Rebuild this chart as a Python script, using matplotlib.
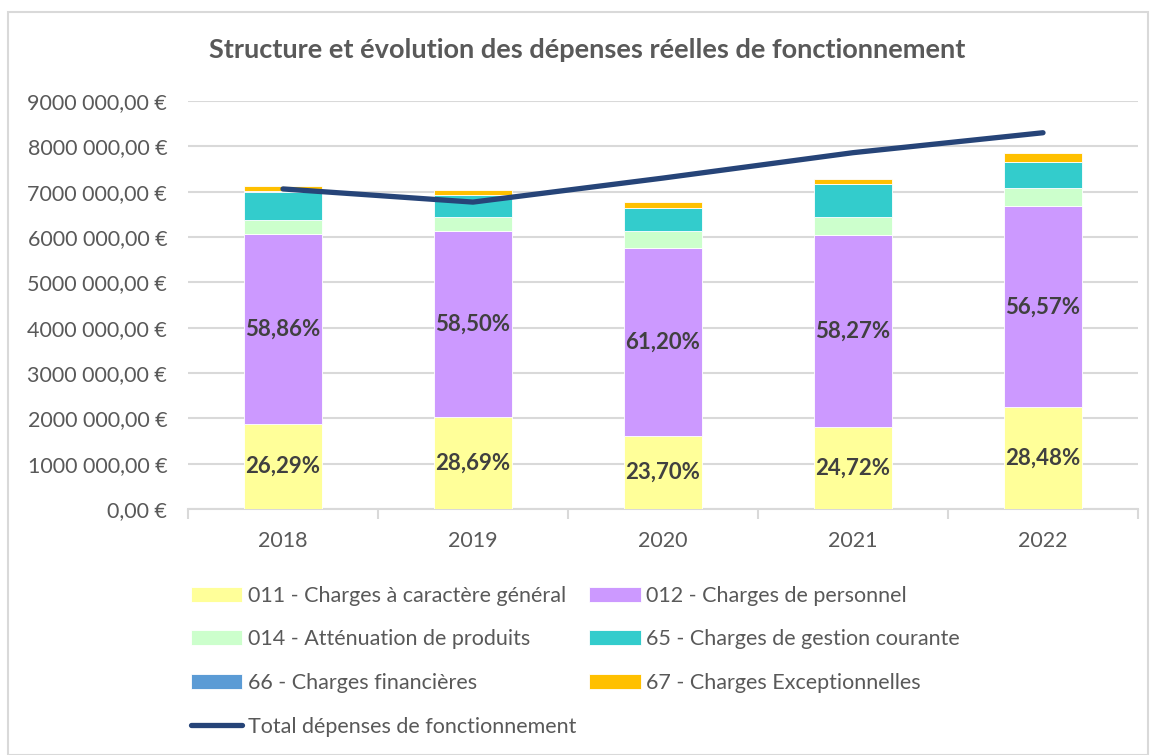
import numpy as np
import matplotlib.pyplot as plt
from matplotlib.patches import Rectangle
from matplotlib.ticker import FuncFormatter

plt.rcParams['font.family'] = ['Lato', 'DejaVu Sans']

# ---------------------------
# Data (euros)
# ---------------------------
years = ['2018', '2019', '2020', '2021', '2022']
ch_011 = [1872000, 2020000, 1604000, 1802000, 2239000]
ch_012 = [4191000, 4118000, 4143000, 4248000, 4446000]
ch_014 = [310000, 310000, 390000, 400000, 400000]
ch_65 = [630000, 480000, 500000, 710000, 570000]
ch_66 = [8000, 8000, 8000, 8000, 8000]
ch_67 = [109000, 104000, 125000, 122000, 197000]
total = [7060000, 6770000, 7300000, 7860000, 8300000]
pct_011 = ['26,29%', '28,69%', '23,70%', '24,72%', '28,48%']
pct_012 = ['58,86%', '58,50%', '61,20%', '58,27%', '56,57%']

series = [
    ('011 - Charges à caractère général', ch_011, '#FFFF99'),
    ('012 - Charges de personnel', ch_012, '#CC99FF'),
    ('014 - Atténuation de produits', ch_014, '#CCFFCC'),
    ('65 - Charges de gestion courante', ch_65, '#33CCCC'),
    ('66 - Charges financières', ch_66, '#5B9BD5'),
    ('67 - Charges Exceptionnelles', ch_67, '#FFC000'),
]

grey = '#595959'
grid_c = '#D9D9D9'

fig = plt.figure(figsize=(11.53, 7.55), dpi=100)
ax = fig.add_axes([188 / 1153, 1 - 509 / 755, 950 / 1153, 408 / 755])

x = np.arange(len(years))
bottom = np.zeros(len(years))
handles = {}
for name, vals, col in series:
    vals = np.array(vals, dtype=float)
    b = ax.bar(x, vals, 0.41, bottom=bottom, color=col, edgecolor='white',
               linewidth=0.6, label=name, zorder=2)
    handles[name] = b
    bottom += vals

line, = ax.plot(x, total, color='#264478', lw=3.8, solid_capstyle='round',
                label='Total dépenses de fonctionnement', zorder=3)

# percent labels
base = np.zeros(len(years))
for vals, labels in [(ch_011, pct_011), (ch_012, pct_012)]:
    vals = np.array(vals, dtype=float)
    for i in range(len(years)):
        ax.text(x[i], base[i] + vals[i] / 2, labels[i], ha='center', va='center',
                fontsize=16, fontweight='bold', color='#404040', zorder=4)
    base += vals

ax.set_ylim(0, 9000000)
ax.set_xlim(-0.5, len(years) - 0.5)
ax.set_yticks(np.arange(0, 9000001, 1000000))


def euro(v, pos):
    if v == 0:
        return '0,00 €'
    return f'{int(round(v / 1e6))}000 000,00 €'


ax.yaxis.set_major_formatter(FuncFormatter(euro))
ax.set_xticks(x)
ax.set_xticklabels(years)
ax.set_xticks(np.arange(-0.5, len(years), 1), minor=True)
ax.tick_params(axis='x', which='major', length=0, pad=16, labelsize=15.5, colors=grey)
ax.tick_params(axis='x', which='minor', length=7, width=1.5, color=grid_c)
ax.tick_params(axis='y', length=0, pad=15, labelsize=15.5, colors=grey)
ax.yaxis.grid(True, color=grid_c, lw=1.5, zorder=0)
ax.set_axisbelow(True)
for s in ['top', 'right', 'left']:
    ax.spines[s].set_visible(False)
ax.spines['bottom'].set_color(grid_c)
ax.spines['bottom'].set_linewidth(1.5)
ax.spines['bottom'].set_zorder(1)

fig.text(587 / 1153, 1 - 50 / 755, 'Structure et évolution des dépenses réelles de fonctionnement',
         ha='center', va='center', fontsize=19.5, fontweight='bold', color=grey)

order = ['011 - Charges à caractère général', '014 - Atténuation de produits',
         '66 - Charges financières']
leg_h = [handles[n] for n in order] + [line] + [handles['012 - Charges de personnel'],
                                                handles['65 - Charges de gestion courante'],
                                                handles['67 - Charges Exceptionnelles']]
leg_l = order + ['Total dépenses de fonctionnement', '012 - Charges de personnel',
                 '65 - Charges de gestion courante', '67 - Charges Exceptionnelles']
fig.legend(leg_h, leg_l, ncol=2, loc='upper left', bbox_to_anchor=(180 / 1153, 1 - 575 / 755),
           frameon=False, fontsize=15.5, labelcolor=grey, handlelength=2.4, handleheight=0.7,
           handletextpad=0.25, labelspacing=1.1, columnspacing=0.6, borderpad=0)

fig.patches.append(Rectangle((8 / 1153, 0), 1140 / 1153, 1 - 12 / 755, transform=fig.transFigure,
                             fill=False, edgecolor=grid_c, lw=1.5))

fig.savefig('out.png', dpi=100)
